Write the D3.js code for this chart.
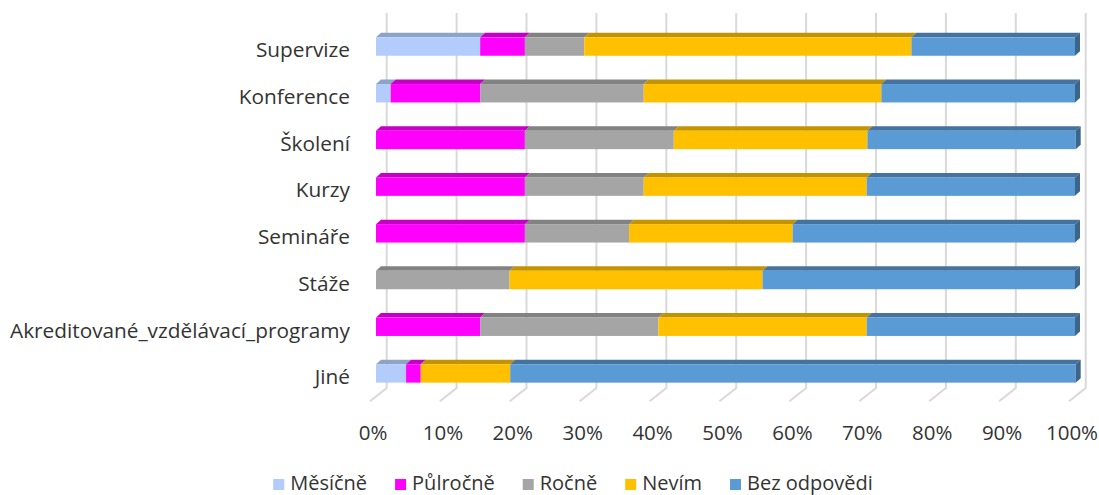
<!DOCTYPE html>
<html>
<head>
<meta charset="utf-8">
<script src="https://cdn.jsdelivr.net/npm/d3@7"></script>
<style>
  html, body { margin: 0; padding: 0; background: #fff; }
  svg { display: block; font-family: "Open Sans", sans-serif; }
</style>
</head>
<body>
<svg id="chart" width="1099" height="495"></svg>
<script>
// Categories (top to bottom)
const categories = ["Supervize", "Konference", "Školení", "Kurzy", "Semináře", "Stáže",
  "Akreditované_vzdělávací_programy", "Jiné"];

// Series names (stack order left to right)
const seriesNames = ["Měsíčně", "Půlročně", "Ročně", "Nevím", "Bez odpovědi"];

// Share of answers per category, in percent
const mesicne     = [14.9,  2.1,  0.0,  0.0,  0.0,  0.0,  0.0,  4.3];
const pulrocne    = [ 6.4, 12.8, 21.3, 21.3, 21.3,  0.0, 14.9,  2.1];
const rocne       = [ 8.5, 23.4, 21.3, 17.0, 14.9, 19.1, 25.5,  0.0];
const nevim       = [46.8, 34.0, 27.7, 31.9, 23.4, 36.2, 29.8, 12.8];
const bezOdpovedi = [23.4, 27.7, 29.8, 29.8, 40.4, 44.7, 29.8, 80.9];

const tickValues = [0, 10, 20, 30, 40, 50, 60, 70, 80, 90, 100];

const seriesValues = [mesicne, pulrocne, rocne, nevim, bezOdpovedi];
const frontColors = ["#b4ccfb", "#ff00ff", "#a5a5a5", "#ffc000", "#5b9bd5"];
const topColors   = ["#8ea3c8", "#c400c4", "#828282", "#c49400", "#44739f"];
const sideColors  = ["#7d8fb0", "#ad00ad", "#737373", "#ad8200", "#3c658c"];

const svg = d3.select("#chart");

// Scales
const x = d3.scaleLinear().domain([0, 100]).range([376, 1075]);
const y = d3.scaleBand().domain(categories).range([23.2, 396.8]).paddingInner(0.606).paddingOuter(0.303);

// 3D offsets: bar depth and back wall offset
const depthDx = 5, depthDy = -4.5;
const wallDx = 10.7;
const wallTop = 13, wallBottom = 388;
const floorDx = -16.7, floorDy = 13.3;

// Back wall gridlines and floor lines
const grid = svg.append("g").attr("stroke", "#d9d9d9").attr("stroke-width", 2).attr("fill", "none");
tickValues.forEach(v => {
  const gx = x(v) + wallDx;
  grid.append("path").attr("d", `M${gx},${wallTop}V${wallBottom}l${floorDx},${floorDy}`);
});

// Stacked data
const rows = categories.map((c, i) => {
  const o = { category: c };
  seriesNames.forEach((s, j) => o[s] = seriesValues[j][i]);
  return o;
});
const stacked = d3.stack().keys(seriesNames)(rows);

const bars = svg.append("g");
const bh = y.bandwidth();

categories.forEach((c, i) => {
  const g = bars.append("g");
  const y0 = y(c);
  let lastIdx = -1;
  stacked.forEach((layer, j) => {
    const [a, b] = layer[i];
    if (b - a <= 0) return;
    lastIdx = j;
    const xa = x(a), xb = x(b);
    // top face
    g.append("path")
      .attr("d", `M${xa},${y0}L${xa + depthDx},${y0 + depthDy}L${xb + depthDx},${y0 + depthDy}L${xb},${y0}Z`)
      .attr("fill", topColors[j]);
    // front face
    g.append("rect")
      .attr("x", xa).attr("y", y0).attr("width", xb - xa).attr("height", bh)
      .attr("fill", frontColors[j]);
  });
  if (lastIdx >= 0) {
    const xe = x(stacked[lastIdx][i][1]);
    g.append("path")
      .attr("d", `M${xe},${y0}L${xe + depthDx},${y0 + depthDy}L${xe + depthDx},${y0 + bh + depthDy}L${xe},${y0 + bh}Z`)
      .attr("fill", sideColors[lastIdx]);
  }
});

// Category labels
svg.append("g")
  .selectAll("text")
  .data(categories)
  .join("text")
  .attr("x", 350)
  .attr("y", d => y(d) + bh / 2 + 3.5)
  .attr("dy", "0.35em")
  .attr("text-anchor", "end")
  .attr("font-size", 20.8)
  .attr("fill", "#333")
  .text(d => d);

// Percent axis labels
svg.append("g")
  .selectAll("text")
  .data(tickValues)
  .join("text")
  .attr("x", d => x(d) - 3)
  .attr("y", 440)
  .attr("text-anchor", "middle")
  .attr("font-size", 20.5)
  .attr("fill", "#333")
  .text(d => d + "%");

// Legend
const legend = svg.append("g");
const items = legend.selectAll("g").data(seriesNames).join("g");
items.append("rect").attr("width", 11).attr("height", 11).attr("y", 479)
  .attr("fill", (d, j) => frontColors[j]);
items.append("text").attr("x", 17).attr("y", 490)
  .attr("font-size", 20).attr("fill", "#333").text(d => d);
let lx = 0;
const offsets = [];
items.each(function () {
  offsets.push(lx);
  lx += 17 + d3.select(this).select("text").node().getComputedTextLength() + 28;
});
const totalW = lx - 28;
const startX = 573 - totalW / 2;
items.attr("transform", (d, j) => `translate(${startX + offsets[j]},0)`);
</script>
</body>
</html>
